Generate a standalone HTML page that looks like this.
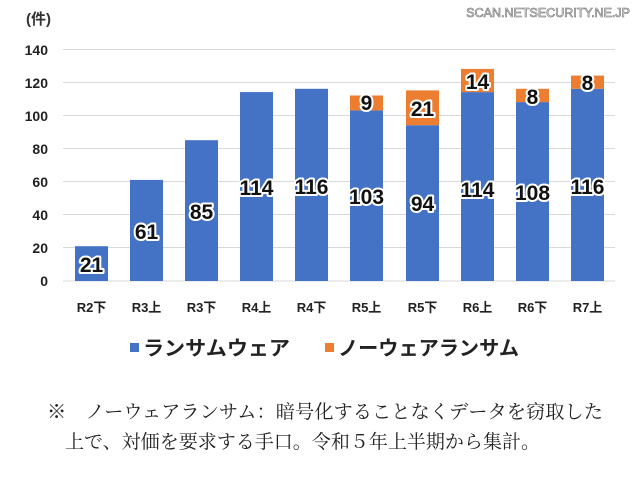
<!DOCTYPE html>
<html><head><meta charset="utf-8"><style>
html,body{margin:0;padding:0;background:#fff;}
svg{display:block;}
.lbl{font-family:"Liberation Sans","Noto Sans CJK JP",sans-serif;font-weight:bold;fill:#111;stroke:#fff;stroke-width:4;paint-order:stroke;stroke-linejoin:round;text-anchor:middle;}
</style></head><body>
<svg width="640" height="480" viewBox="0 0 640 480" xmlns="http://www.w3.org/2000/svg">
<text x="26" y="24" font-family="'Liberation Sans','Noto Sans CJK JP',sans-serif" font-weight="bold" font-size="15" fill="#333">(件)</text>
<text x="630" y="17" text-anchor="end" font-family="'Liberation Sans',sans-serif" font-size="12.5" fill="#fff" stroke="#666" stroke-width="0.6">SCAN.NETSECURITY.NE.JP</text>
<g stroke="#d9d9d9" stroke-width="1">
<line x1="63" x2="615" y1="49.5" y2="49.5"/><line x1="63" x2="615" y1="82.5" y2="82.5"/><line x1="63" x2="615" y1="115.5" y2="115.5"/><line x1="63" x2="615" y1="148.5" y2="148.5"/><line x1="63" x2="615" y1="181.5" y2="181.5"/><line x1="63" x2="615" y1="214.5" y2="214.5"/><line x1="63" x2="615" y1="247.5" y2="247.5"/><line x1="63" x2="615" y1="281" y2="281"/>
</g>
<g font-family="'Liberation Sans',sans-serif" font-weight="bold" font-size="14" fill="#222" text-anchor="end">
<text x="48" y="55">140</text><text x="48" y="88">120</text><text x="48" y="121">100</text><text x="48" y="154">80</text><text x="48" y="187">60</text><text x="48" y="220">40</text><text x="48" y="253">20</text><text x="48" y="286">0</text>
</g>
<g fill="#4472c4">
<rect x="75" y="246.2" width="33" height="34.8"/>
<rect x="130" y="179.9" width="33" height="101.1"/>
<rect x="185" y="140.2" width="33" height="140.8"/>
<rect x="240" y="92.1" width="33" height="188.9"/>
<rect x="295" y="88.8" width="33" height="192.2"/>
<rect x="350" y="110.4" width="33" height="170.6"/>
<rect x="406" y="125.2" width="33" height="155.8"/>
<rect x="461" y="92.1" width="33" height="188.9"/>
<rect x="516" y="102.1" width="33" height="178.9"/>
<rect x="571" y="88.8" width="33" height="192.2"/>
</g>
<g fill="#ed7d31">
<rect x="350" y="95.5" width="33" height="14.9"/>
<rect x="406" y="90.4" width="33" height="34.8"/>
<rect x="461" y="68.9" width="33" height="23.2"/>
<rect x="516" y="88.8" width="33" height="13.3"/>
<rect x="571" y="75.6" width="33" height="13.2"/>
</g>
<g class="lbl" font-size="21">
<text x="91.5" y="272">21</text>
<text x="146.5" y="239">61</text>
<text x="201.5" y="219">85</text>
<text x="256.5" y="195">114</text>
<text x="311.5" y="194">116</text>
<text x="366.5" y="204">103</text>
<text x="422.5" y="211">94</text>
<text x="477.5" y="197">114</text>
<text x="532.5" y="200">108</text>
<text x="587.5" y="194">116</text>
<text x="366.5" y="110">9</text>
<text x="422.5" y="116">21</text>
<text x="477.5" y="89">14</text>
<text x="532.5" y="104">8</text>
<text x="587.5" y="90">8</text>
</g>
<g font-family="'Liberation Sans','Noto Sans CJK JP',sans-serif" font-weight="bold" font-size="13" fill="#222" text-anchor="middle">
<text x="91.5" y="312">R2下</text><text x="146.5" y="312">R3上</text><text x="201.5" y="312">R3下</text><text x="256.5" y="312">R4上</text><text x="311.5" y="312">R4下</text><text x="366.5" y="312">R5上</text><text x="422.5" y="312">R5下</text><text x="477.5" y="312">R6上</text><text x="532.5" y="312">R6下</text><text x="587.5" y="312">R7上</text>
</g>
<rect x="130" y="343" width="9" height="9" fill="#4472c4"/>
<rect x="325" y="343" width="9" height="9" fill="#ed7d31"/>
<g font-family="'Liberation Sans','Noto Sans CJK JP',sans-serif" font-weight="bold" font-size="20" fill="#222">
<text x="143" y="355" textLength="147" lengthAdjust="spacingAndGlyphs">ランサムウェア</text>
<text x="338" y="355" textLength="181" lengthAdjust="spacingAndGlyphs">ノーウェアランサム</text>
</g>
<g font-family="'Liberation Serif','Noto Serif CJK SC',serif" font-size="19" fill="#222">
<text x="47" y="418" textLength="556" lengthAdjust="spacingAndGlyphs">※　ノーウェアランサム：暗号化することなくデータを窃取した</text>
<text x="65" y="448" textLength="475" lengthAdjust="spacingAndGlyphs">上で、対価を要求する手口。令和５年上半期から集計。</text>
</g>
</svg>
</body></html>
